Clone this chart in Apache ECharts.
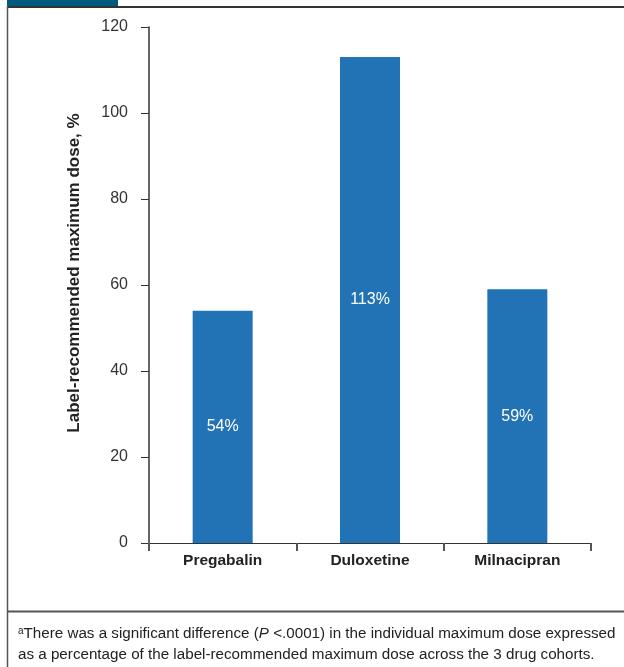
<!DOCTYPE html>
<html>
<head>
<meta charset="utf-8">
<script src="https://cdn.jsdelivr.net/npm/echarts@6/dist/echarts.min.js"></script>
<style>html,body{margin:0;padding:0;background:#fff}#c{width:624px;height:667px}</style>
</head>
<body>
<div id="c"></div>
<script>
const categories = ['Pregabalin', 'Duloxetine', 'Milnacipran'];
const values = [54, 113, 59];
const yTicks = [0, 20, 40, 60, 80, 100, 120];
const yName = 'Label-recommended maximum dose, %';
const footLine1 = 'There was a significant difference (';
const footLine2 = 'as a percentage of the label-recommended maximum dose across the 3 drug cohorts.';

const FONT = '"Liberation Sans Narrow", "Liberation Sans", Arial, sans-serif';
const chart = echarts.init(document.getElementById('c'), null, {renderer: 'canvas'});
chart.setOption({
  animation: false,
  textStyle: {fontFamily: FONT},
  grid: {left: 149, right: 33, top: 27, bottom: 124, containLabel: false},
  xAxis: {
    type: 'category',
    data: categories,
    axisLine: {lineStyle: {color: '#333', width: 1}},
    axisTick: {show: true, alignWithLabel: false, length: 8, inside: false, lineStyle: {color: '#555', width: 2}},
    axisLabel: {color: '#222', fontWeight: 'bold', fontSize: 15.5, margin: 10, fontFamily: FONT}
  },
  yAxis: {
    type: 'value',
    min: yTicks[0], max: yTicks[yTicks.length - 1], interval: 20,
    name: yName,
    nameLocation: 'middle',
    nameGap: 66,
    nameTextStyle: {fontWeight: 'bold', fontSize: 17, color: '#222', fontFamily: FONT, padding: [0, 0, 0, 24]},
    axisLine: {show: true, lineStyle: {color: '#333', width: 1.5}},
    axisTick: {show: true, length: 8, lineStyle: {color: '#333', width: 1}},
    axisLabel: {color: '#333', fontSize: 16, margin: 21, fontFamily: FONT},
    splitLine: {show: false}
  },
  series: [{
    type: 'bar',
    data: values,
    barWidth: 60,
    itemStyle: {color: '#2273b5'},
    label: {show: true, position: 'inside', color: '#fff', fontSize: 16, formatter: '{c}%', fontFamily: FONT}
  }],
  graphic: [
    {type: 'rect', shape: {x: 7, y: 0, width: 111, height: 6}, style: {fill: '#005a7e'}},
    {type: 'line', shape: {x1: 7, y1: 7, x2: 624, y2: 7}, style: {stroke: '#333', lineWidth: 2}},
    {type: 'line', shape: {x1: 7.5, y1: 6, x2: 7.5, y2: 667}, style: {stroke: '#555', lineWidth: 1.5}},
    {type: 'line', shape: {x1: 7, y1: 611.5, x2: 624, y2: 611.5}, style: {stroke: '#555', lineWidth: 2}},
    {type: 'text', left: 18, top: 626, style: {
      text: '{sup|a}{n|' + footLine1 + '}{i|P}{n| <.0001) in the individual maximum dose expressed}',
      rich: {
        sup: {fontSize: 10, verticalAlign: 'top', fill: '#222', fontFamily: FONT, padding: [0, 0, 6, 0]},
        n: {fontSize: 15.2, fill: '#222', fontFamily: FONT},
        i: {fontSize: 15.2, fill: '#222', fontStyle: 'italic', fontFamily: FONT}
      }
    }},
    {type: 'text', left: 18, top: 647, style: {text: footLine2, fontSize: 15.2, fill: '#222', fontFamily: FONT}}
  ]
});
</script>
</body>
</html>
